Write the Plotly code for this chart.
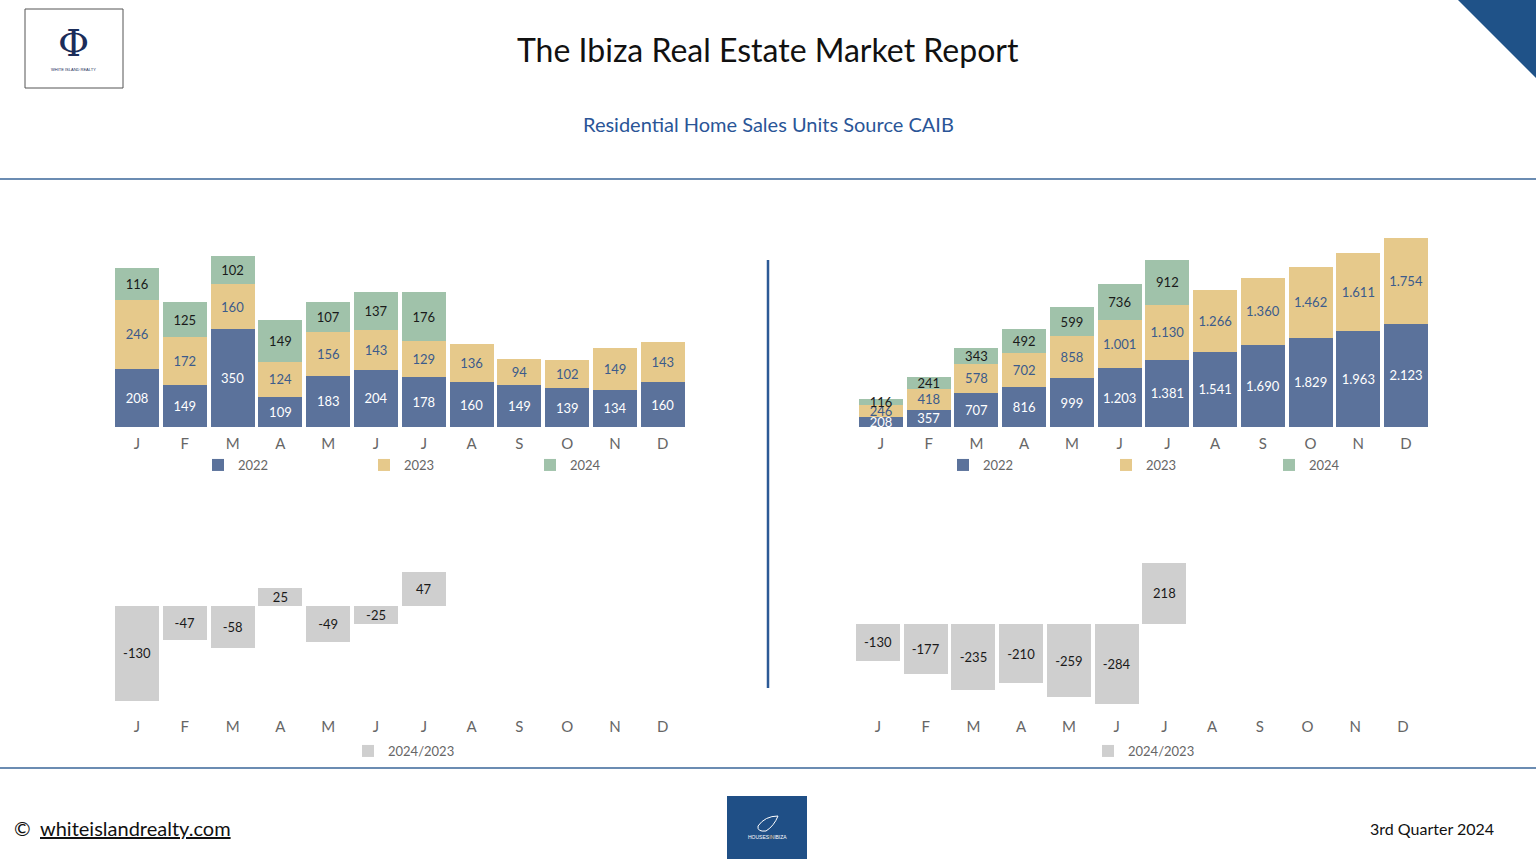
import plotly.graph_objects as go

months = ["J", "F", "M", "A", "M", "J", "J", "A", "S", "O", "N", "D"]

# Monthly units (left)
m2022 = [208, 149, 350, 109, 183, 204, 178, 160, 149, 139, 134, 160]
m2023 = [246, 172, 160, 124, 156, 143, 129, 136, 94, 102, 149, 143]
m2024 = [116, 125, 102, 149, 107, 137, 176]
mdiff = [-130, -47, -58, 25, -49, -25, 47]

# Cumulative units (right)
c2022 = [208, 357, 707, 816, 999, 1203, 1381, 1541, 1690, 1829, 1963, 2123]
c2023 = [246, 418, 578, 702, 858, 1001, 1130, 1266, 1360, 1462, 1611, 1754]
c2024 = [116, 241, 343, 492, 599, 736, 912]
cdiff = [-130, -177, -235, -210, -259, -284, 218]

W, H = 1536, 864
C22, C23, C24, CG = "#5b729b", "#e6c98b", "#a0c2aa", "#cfcfcf"
FONT = "Lato"

def px(x):
    return x / W

def py(y):
    return 1 - y / H

fig = go.Figure()

def add_bar(vals, name, color, tcolor, xa, ya, legend, showlegend=True):
    fig.add_trace(go.Bar(
        x=list(range(len(vals))), y=vals, name=name,
        marker=dict(color=color, line=dict(width=0)),
        texttemplate="%{y:,.0f}", textposition="inside", insidetextanchor="middle",
        constraintext="none", textangle=0,
        textfont=dict(family=FONT, size=13, color=tcolor),
        xaxis=xa, yaxis=ya, legend=legend, showlegend=showlegend,
        hoverinfo="skip",
    ))

add_bar(m2022, "2022", C22, "white", "x", "y", "legend")
add_bar(m2023, "2023", C23, "#3b5b8c", "x", "y", "legend")
add_bar(m2024, "2024", C24, "#1a1a1a", "x", "y", "legend")
add_bar(c2022, "2022", C22, "white", "x2", "y2", "legend2")
add_bar(c2023, "2023", C23, "#3b5b8c", "x2", "y2", "legend2")
add_bar(c2024, "2024", C24, "#1a1a1a", "x2", "y2", "legend2")
add_bar(mdiff, "2024/2023", CG, "#1a1a1a", "x3", "y3", "legend3")
add_bar(cdiff, "2024/2023", CG, "#1a1a1a", "x4", "y4", "legend4")

xcommon = dict(range=[-0.5, 11.5], tickvals=list(range(12)), ticktext=months,
               showgrid=False, zeroline=False, showline=False, ticks="",
               tickfont=dict(family=FONT, size=15, color="#666666"),
               fixedrange=True, ticklabelstandoff=6, automargin=False)
ycommon = dict(visible=False, showgrid=False, zeroline=False, fixedrange=True)

fig.update_layout(
    width=W, height=H, margin=dict(l=0, r=0, t=0, b=0, autoexpand=False),
    paper_bgcolor="white", plot_bgcolor="white",
    barmode="stack", bargap=0.08, separators=",.",
    font=dict(family=FONT),
    xaxis=dict(domain=[px(113.1), px(686.7)], anchor="y", **xcommon),
    yaxis=dict(domain=[py(427), py(245.3)], range=[0, 650], anchor="x", **ycommon),
    xaxis2=dict(domain=[px(857.1), px(1429.9)], anchor="y2", **xcommon),
    yaxis2=dict(domain=[py(427), py(232)], range=[0, 4000], anchor="x2", **ycommon),
    xaxis3=dict(domain=[px(113.1), px(686.7)], anchor="y3", **xcommon),
    yaxis3=dict(domain=[py(710), py(560)], range=[-142.5, 63], anchor="x3", **ycommon),
    xaxis4=dict(domain=[px(854.1), px(1426.9)], anchor="y4", **xcommon),
    yaxis4=dict(domain=[py(710), py(555)], range=[-305, 245], anchor="x4", **ycommon),
)

leg = dict(orientation="h", bgcolor="rgba(0,0,0,0)", borderwidth=0, traceorder="normal",
           font=dict(family=FONT, size=13, color="#666666"),
           xanchor="left", yanchor="middle", entrywidthmode="pixels", entrywidth=121,
           itemclick=False, itemdoubleclick=False)
fig.update_layout(
    legend=dict(x=px(198), y=py(465), **leg),
    legend2=dict(x=px(943), y=py(465), **{**leg, "entrywidth": 118}),
    legend3=dict(x=px(348), y=py(751), **leg),
    legend4=dict(x=px(1088), y=py(751), **leg),
)

shapes = [
    # header / footer rules
    dict(type="line", xref="paper", yref="paper", x0=0, x1=1, y0=py(179), y1=py(179),
         line=dict(color="#3a6699", width=1.5)),
    dict(type="line", xref="paper", yref="paper", x0=0, x1=1, y0=py(768), y1=py(768),
         line=dict(color="#3a6699", width=1.5)),
    # central divider
    dict(type="line", xref="paper", yref="paper", x0=px(768), x1=px(768), y0=py(260), y1=py(688),
         line=dict(color="#2c5a96", width=2.5)),
    # corner triangle
    dict(type="path", xref="paper", yref="paper",
         path=f"M {px(1458)} {py(0)} L {px(1536)} {py(0)} L {px(1536)} {py(78)} Z",
         fillcolor="#1f5288", line=dict(width=0)),
    # logo box
    dict(type="rect", xref="paper", yref="paper", x0=px(25), x1=px(123), y0=py(88), y1=py(9),
         line=dict(color="#555555", width=1), fillcolor="white"),
    # houses in ibiza logo
    dict(type="rect", xref="paper", yref="paper", x0=px(727), x1=px(807), y0=py(859), y1=py(796),
         line=dict(width=0), fillcolor="#1f4f86"),
    dict(type="path", xref="paper", yref="paper",
         path=(f"M {px(758)} {py(826)} Q {px(765)} {py(816)} {px(778)} {py(816)} "
               f"Q {px(774)} {py(826)} {px(766)} {py(831)} Q {px(757)} {py(832)} {px(758)} {py(826)} Z"),
         fillcolor="rgba(0,0,0,0)", line=dict(color="white", width=1)),
]
fig.update_layout(shapes=shapes)

ann = [
    dict(text="The Ibiza Real Estate Market Report", x=0.5, y=py(50),
         font=dict(family=FONT, size=32, color="#111111")),
    dict(text="Residential Home Sales Units Source CAIB", x=0.5, y=py(124),
         font=dict(family=FONT, size=20, color="#2a5597")),
    dict(text="Φ", x=px(73), y=py(43),
         font=dict(family="DejaVu Serif", size=38, color="#1b2d5a")),
    dict(text="WHITE ISLAND REALTY", x=px(73), y=py(69),
         font=dict(family="Liberation Sans", size=4, color="#1b2d5a")),
    dict(text="HOUSES<span style='color:#e6c98b'>IN</span>IBIZA", x=px(767), y=py(837),
         font=dict(family="Liberation Sans", size=5, color="white")),
    dict(text="©", x=px(12), y=py(828), xanchor="left",
         font=dict(family=FONT, size=20, color="#111111")),
    dict(text="whiteislandrealty.com", x=px(38), y=py(828), xanchor="left",
         font=dict(family=FONT, size=20, color="#111111", lineposition="under")),
    dict(text="3rd Quarter 2024", x=px(1496), y=py(828), xanchor="right",
         font=dict(family=FONT, size=16, color="#111111")),
]
for a in ann:
    a.setdefault("xanchor", "center")
    a.update(xref="paper", yref="paper", showarrow=False, yanchor="middle")
fig.update_layout(annotations=ann)

fig.write_html(
    "out.html",
    config={"displayModeBar": False},
    post_script="document.body.style.margin='0';document.body.style.overflow='hidden';",
)
